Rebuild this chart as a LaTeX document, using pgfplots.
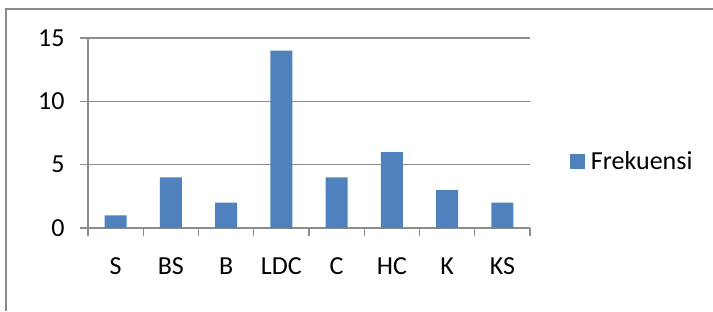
\documentclass[border=0pt]{standalone}
\usepackage{fontspec}
\setmainfont{Carlito}
\usepackage{pgfplots}
\pgfplotsset{compat=1.18}
\definecolor{barblue}{HTML}{4F81BD}
\definecolor{gridgray}{HTML}{8C8C8C}
\definecolor{framegray}{HTML}{8A8A8A}
\begin{document}
\begin{tikzpicture}[x=1pt,y=1pt]
\path[use as bounding box] (0,0) rectangle (713,311);
\draw[framegray, line width=1.8pt] (6,0) -- (6,302) -- (713,302);
\begin{axis}[
  at={(88pt,83pt)}, anchor=south west,
  scale only axis, width=442pt, height=190pt,
  xmin=-0.5, xmax=7.5, ymin=0, ymax=15,
  ybar, bar width=22pt, bar shift=0pt,
  axis x line*=bottom, axis y line*=left,
  axis line style={gridgray, line width=1.2pt, -},
  xtick={0,...,7},
  xticklabels={S,BS,B,LDC,C,HC,K,KS},
  major x tick style={draw=none},
  minor xtick={-0.5,0.5,...,7.5},
  minor x tick style={gridgray, line width=1.2pt},
  minor tick length=8pt,
  ytick={0,5,10,15},
  major tick length=8pt,
  tick align=outside,
  y tick style={gridgray, line width=1.2pt},
  ymajorgrids, grid style={gridgray, line width=1.2pt},
  /pgf/number format/assume math mode=true,
  tick label style={font=\fontsize{26}{30}\selectfont, text=black},
  xticklabel style={yshift=-18pt},
  yticklabel style={xshift=-12pt},
  legend style={draw=none, fill=none, at={(1.09,0.35)}, anchor=west,
    inner sep=0pt, font=\fontsize{26}{30}\selectfont},
  legend image code/.code={\fill[barblue] (0pt,-7.5pt) rectangle (15pt,7.5pt); \path (19pt,0pt);},
]
\addplot[fill=barblue, draw=none] coordinates {(0,1) (1,4) (2,2) (3,14) (4,4) (5,6) (6,3) (7,2)};
\addlegendentry{Frekuensi}
\end{axis}
\end{tikzpicture}
\end{document}
